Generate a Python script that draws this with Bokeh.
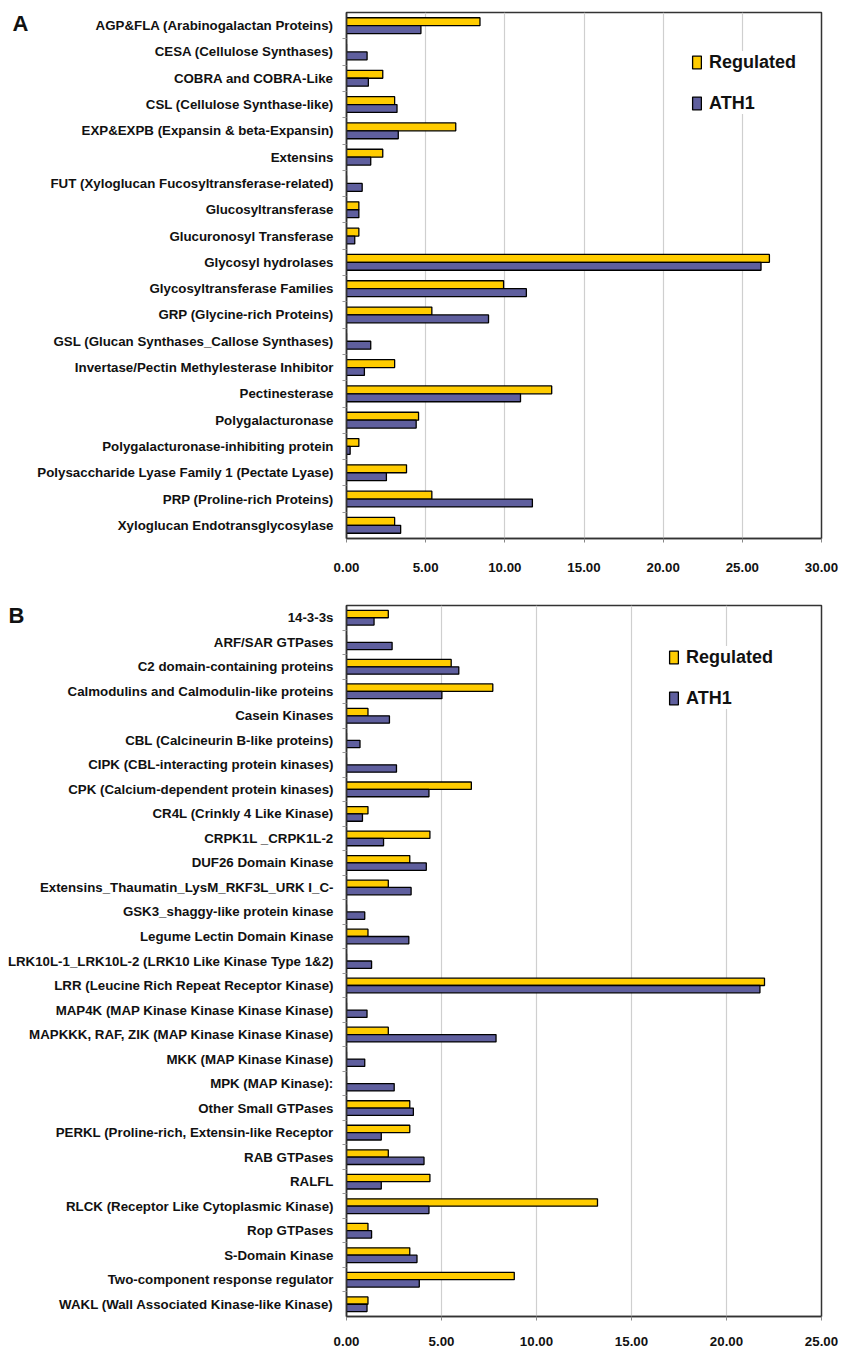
from bokeh.plotting import figure
from bokeh.layouts import column
from bokeh.models import (ColumnDataSource, FactorRange, Range1d, NumeralTickFormatter,
                          FixedTicker, Legend, LegendItem, CategoricalAxis)
from bokeh.transform import dodge
from bokeh.embed import file_html
from bokeh.resources import INLINE

# ---------------- data ----------------
cats_a = [
    "AGP&FLA (Arabinogalactan Proteins)",
    "CESA (Cellulose Synthases)",
    "COBRA and COBRA-Like",
    "CSL (Cellulose Synthase-like)",
    "EXP&EXPB (Expansin & beta-Expansin)",
    "Extensins",
    "FUT (Xyloglucan Fucosyltransferase-related)",
    "Glucosyltransferase",
    "Glucuronosyl Transferase",
    "Glycosyl hydrolases",
    "Glycosyltransferase Families",
    "GRP (Glycine-rich Proteins)",
    "GSL (Glucan Synthases_Callose Synthases)",
    "Invertase/Pectin Methylesterase Inhibitor",
    "Pectinesterase",
    "Polygalacturonase",
    "Polygalacturonase-inhibiting protein",
    "Polysaccharide Lyase Family 1 (Pectate Lyase)",
    "PRP (Proline-rich Proteins)",
    "Xyloglucan Endotransglycosylase",
]
regulated_a = [8.43, 0.0, 2.29, 3.04, 6.90, 2.29, 0.0, 0.78, 0.78, 26.71,
               9.92, 5.39, 0.0, 3.04, 12.96, 4.55, 0.78, 3.79, 5.39, 3.04]
ath1_a = [4.70, 1.30, 1.38, 3.19, 3.27, 1.53, 0.99, 0.78, 0.52, 26.18,
          11.36, 8.97, 1.53, 1.13, 10.99, 4.40, 0.23, 2.52, 11.74, 3.42]
ticks_a = [0, 5, 10, 15, 20, 25, 30]

cats_b = [
    "14-3-3s",
    "ARF/SAR GTPases",
    "C2 domain-containing proteins",
    "Calmodulins and Calmodulin-like proteins",
    "Casein Kinases",
    "CBL (Calcineurin B-like proteins)",
    "CIPK (CBL-interacting protein kinases)",
    "CPK (Calcium-dependent protein kinases)",
    "CR4L (Crinkly 4 Like Kinase)",
    "CRPK1L _CRPK1L-2",
    "DUF26 Domain Kinase",
    "Extensins_Thaumatin_LysM_RKF3L_URK I_C-",
    "GSK3_shaggy-like protein kinase",
    "Legume Lectin Domain Kinase",
    "LRK10L-1_LRK10L-2 (LRK10 Like Kinase Type 1&2)",
    "LRR (Leucine Rich Repeat Receptor Kinase)",
    "MAP4K (MAP Kinase Kinase Kinase Kinase)",
    "MAPKKK, RAF, ZIK (MAP Kinase Kinase Kinase)",
    "MKK (MAP Kinase Kinase)",
    "MPK (MAP Kinase):",
    "Other Small GTPases",
    "PERKL (Proline-rich, Extensin-like Receptor",
    "RAB GTPases",
    "RALFL",
    "RLCK (Receptor Like Cytoplasmic Kinase)",
    "Rop GTPases",
    "S-Domain Kinase",
    "Two-component response regulator",
    "WAKL (Wall Associated Kinase-like Kinase)",
]
regulated_b = [2.20, 0.0, 5.51, 7.70, 1.13, 0.0, 0.0, 6.57, 1.13, 4.39,
               3.33, 2.20, 0.0, 1.13, 0.0, 22.00, 0.0, 2.20, 0.0, 0.0,
               3.33, 3.33, 2.20, 4.39, 13.21, 1.13, 3.33, 8.83, 1.13]
ath1_b = [1.45, 2.40, 5.91, 5.02, 2.26, 0.71, 2.63, 4.34, 0.84, 1.95,
          4.20, 3.40, 0.96, 3.28, 1.32, 21.76, 1.08, 7.87, 0.96, 2.51,
          3.52, 1.83, 4.08, 1.83, 4.34, 1.32, 3.71, 3.83, 1.08]
ticks_b = [0, 5, 10, 15, 20, 25]

series_names = ["Regulated", "ATH1"]
YELLOW = "#FFCC00"
BLUE = "#5F5F9E"
FONT = "Liberation Sans"
TXT = "#111111"
ZW = "\u200b"


def make_panel(letter, cats, reg, ath, ticks, height, bleft, bright, btop, bbottom,
               legend_xy, letter_pad, letter_standoff, xlab_standoff):
    n = len(cats)
    src = ColumnDataSource(dict(cat=cats, reg=reg, ath=ath))
    p = figure(width=848, height=height,
               y_range=FactorRange(factors=list(reversed(cats)), range_padding=0),
               x_range=Range1d(0, ticks[-1]),
               y_axis_location=None,
               output_backend="svg", toolbar_location=None,
               min_border_left=bleft, min_border_right=bright,
               min_border_top=btop, min_border_bottom=bbottom)
    r1 = p.hbar(y=dodge("cat", 0.15, range=p.y_range), right="reg", height=0.3,
                source=src, fill_color=YELLOW, line_color="black", line_width=1.3)
    r2 = p.hbar(y=dodge("cat", -0.15, range=p.y_range), right="ath", height=0.3,
                source=src, fill_color=BLUE, line_color="black", line_width=1.3)

    p.outline_line_color = "#333333"
    p.outline_line_width = 1.5
    p.ygrid.grid_line_color = None
    p.xgrid.grid_line_color = "#cfcfcf"
    p.xgrid.grid_line_width = 1.2
    p.xaxis.ticker = FixedTicker(ticks=ticks)
    p.xaxis.formatter = NumeralTickFormatter(format="0.00")
    p.xaxis.major_label_text_font = FONT
    p.xaxis.major_label_text_font_style = "bold"
    p.xaxis.major_label_text_font_size = "13.3px"
    p.xaxis.major_label_text_color = TXT
    p.xaxis.major_label_standoff = xlab_standoff
    p.xaxis.axis_line_color = "#333333"
    p.xaxis.axis_line_width = 1.5
    p.xaxis.major_tick_line_color = "#888888"
    p.xaxis.major_tick_out = 4
    p.xaxis.major_tick_in = 0
    p.xaxis.minor_tick_line_color = None

    # helper ranges: category boundaries (tick marks) and a slot for the panel letter
    # (absolute padding is applied to each end of a FactorRange)
    bound_factors = [ZW * (k + 1) for k in range(n + 1)]
    p.extra_y_ranges = {
        "bounds": FactorRange(factors=bound_factors, range_padding=-0.5,
                              range_padding_units="absolute"),
        "letter": FactorRange(factors=[ZW, letter], range_padding=-letter_pad,
                              range_padding_units="absolute"),
    }
    tick_axis = CategoricalAxis(y_range_name="bounds",
                                axis_line_color="#333333", axis_line_width=1.5,
                                major_tick_line_color="#999999", major_tick_out=4,
                                major_tick_in=0, minor_tick_line_color=None,
                                major_label_text_font_size="1px",
                                major_label_text_color=None, major_label_standoff=0)
    p.add_layout(tick_axis, "left")

    cat_axis = CategoricalAxis(major_tick_line_color=None, minor_tick_line_color=None,
                               axis_line_color=None,
                               major_label_text_font=FONT, major_label_text_font_style="bold",
                               major_label_text_font_size="13.3px", major_label_text_color=TXT,
                               major_label_standoff=3)
    p.add_layout(cat_axis, "left")

    letter_axis = CategoricalAxis(y_range_name="letter",
                                  axis_line_color=None, major_tick_line_color=None,
                                  minor_tick_line_color=None, major_tick_out=0, major_tick_in=0,
                                  major_label_text_font=FONT, major_label_text_font_style="bold",
                                  major_label_text_font_size="22px", major_label_text_color=TXT,
                                  major_label_standoff=letter_standoff)
    p.add_layout(letter_axis, "left")

    legend = Legend(items=[LegendItem(label=series_names[0], renderers=[r1]),
                           LegendItem(label=series_names[1], renderers=[r2])],
                    location=legend_xy)
    legend.label_text_font = FONT
    legend.label_text_font_style = "bold"
    legend.label_text_font_size = "18px"
    legend.label_text_color = TXT
    legend.glyph_width = 11
    legend.glyph_height = 16
    legend.label_height = 22
    legend.spacing = 19
    legend.padding = 6
    legend.label_standoff = 7
    legend.border_line_color = None
    legend.background_fill_color = "white"
    legend.background_fill_alpha = 1.0
    p.add_layout(legend)
    return p


pa = make_panel("A", cats_a, regulated_a, ath1_a, ticks_a, 580,
                bleft=346, bright=25, btop=12, bbottom=42,
                legend_xy=(345, 424), letter_pad=0.479, letter_standoff=6,
                xlab_standoff=20)
pb = make_panel("B", cats_b, regulated_b, ath1_b, ticks_b, 768,
                bleft=343, bright=27, btop=25, bbottom=32,
                legend_xy=(322, 607), letter_pad=0.486, letter_standoff=-20,
                xlab_standoff=16)

layout = column(pa, pb)
open("out.html", "w").write(file_html(layout, INLINE))
